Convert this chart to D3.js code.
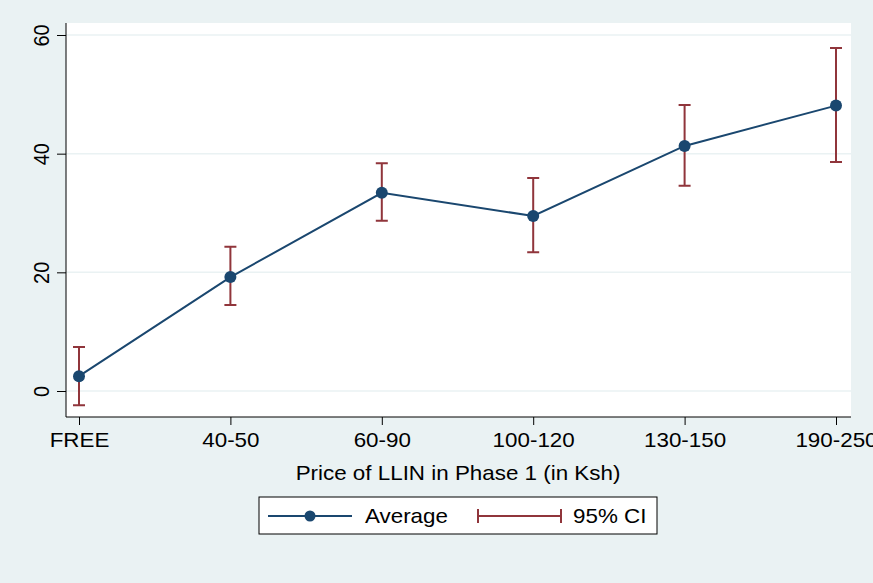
<!DOCTYPE html>
<html>
<head>
<meta charset="utf-8">
<script src="https://cdn.jsdelivr.net/npm/d3@7"></script>
<style>
  body { margin: 0; background: #eaf2f3; }
  text { font-family: "Liberation Sans", Arial, sans-serif; fill: #000; }
</style>
</head>
<body>
<div id="chart"></div>
<script>
const categories = ['FREE', '40-50', '60-90', '100-120', '130-150', '190-250'];
const average = [2.5, 19.2, 33.4, 29.5, 41.3, 48.1];
const ciLower = [-2.4, 14.5, 28.7, 23.4, 34.6, 38.6];
const ciUpper = [7.4, 24.3, 38.4, 35.9, 48.2, 57.8];
const yTicks = [0, 20, 40, 60];

const data = categories.map((c, i) => ({ cat: c, avg: average[i], lo: ciLower[i], hi: ciUpper[i] }));

const svgWidth = 873;
const svgHeight = 583;
const plot = { left: 66, right: 851, top: 23, bottom: 417 };
const stretch = 1.12; // text in the original is a bit wide

const svg = d3.select('#chart').append('svg').attr('width', svgWidth).attr('height', svgHeight);
svg.append('rect').attr('width', svgWidth).attr('height', svgHeight).attr('fill', '#eaf2f3');
svg.append('rect')
  .attr('x', plot.left).attr('y', plot.top)
  .attr('width', plot.right - plot.left).attr('height', plot.bottom - plot.top)
  .attr('fill', '#fff');

const xScale = d3.scalePoint().domain(categories).range([79, 836]);
const yScale = d3.scaleLinear().domain([0, 60]).range([391, 35]);

// gridlines
svg.append('g').selectAll('line').data(yTicks).enter().append('line')
  .attr('x1', plot.left).attr('x2', plot.right)
  .attr('y1', d => yScale(d)).attr('y2', d => yScale(d))
  .attr('stroke', '#eaf2f3').attr('stroke-width', 1.5);

// axes
const yAxis = svg.append('g').attr('transform', `translate(${plot.left},0)`)
  .call(d3.axisLeft(yScale).tickValues(yTicks).tickSize(9));
yAxis.select('.domain').attr('d', `M0,${plot.top}V${plot.bottom}`).attr('stroke', '#000');
yAxis.selectAll('.tick line').attr('stroke', '#000');
yAxis.selectAll('text')
  .attr('font-size', 20)
  .attr('text-anchor', 'middle')
  .attr('x', 0).attr('y', -15.5).attr('dy', 0)
  .attr('transform', `rotate(-90) scale(1,${stretch})`);

const xAxis = svg.append('g').attr('transform', `translate(0,${plot.bottom})`)
  .call(d3.axisBottom(xScale).tickSize(8));
xAxis.select('.domain').attr('d', `M${plot.left},0H${plot.right}`).attr('stroke', '#000');
xAxis.selectAll('.tick line').attr('stroke', '#000');
xAxis.selectAll('text')
  .attr('font-size', 20).attr('y', 30).attr('dy', 0)
  .attr('transform', `scale(${stretch},1)`);

svg.append('text')
  .attr('transform', `translate(458,480) scale(${stretch},1)`)
  .attr('text-anchor', 'middle').attr('font-size', 20)
  .text('Price of LLIN in Phase 1 (in Ksh)');

const lineColor = '#1a476f';
const ciColor = '#90353b';

// average line
svg.append('path').datum(data)
  .attr('fill', 'none').attr('stroke', lineColor).attr('stroke-width', 2)
  .attr('d', d3.line().x(d => xScale(d.cat)).y(d => yScale(d.avg)));

// CI bars
const ci = svg.append('g').attr('stroke', ciColor).attr('stroke-width', 2).attr('fill', 'none');
ci.selectAll('.ci').data(data).enter().append('path')
  .attr('class', 'ci')
  .attr('d', d => {
    const x = xScale(d.cat), y1 = yScale(d.hi), y0 = yScale(d.lo);
    return `M${x - 6},${y1}H${x + 6}M${x},${y1}V${y0}M${x - 6},${y0}H${x + 6}`;
  });

// markers
svg.append('g').selectAll('circle').data(data).enter().append('circle')
  .attr('cx', d => xScale(d.cat)).attr('cy', d => yScale(d.avg))
  .attr('r', 6).attr('fill', lineColor);

// legend
const legend = svg.append('g');
legend.append('rect').attr('x', 259).attr('y', 497).attr('width', 398).attr('height', 37)
  .attr('fill', '#fff').attr('stroke', '#000').attr('stroke-width', 1);
legend.append('line').attr('x1', 268).attr('x2', 352).attr('y1', 516).attr('y2', 516)
  .attr('stroke', lineColor).attr('stroke-width', 2);
legend.append('circle').attr('cx', 310).attr('cy', 516).attr('r', 5.5).attr('fill', lineColor);
legend.append('text').attr('transform', `translate(365,523) scale(${stretch},1)`)
  .attr('font-size', 20).text('Average');
legend.append('path').attr('d', 'M478,509V523M478,516H561M561,509V523')
  .attr('stroke', ciColor).attr('stroke-width', 2).attr('fill', 'none');
legend.append('text').attr('transform', `translate(573,523) scale(${stretch},1)`)
  .attr('font-size', 20).text('95% CI');
</script>
</body>
</html>
